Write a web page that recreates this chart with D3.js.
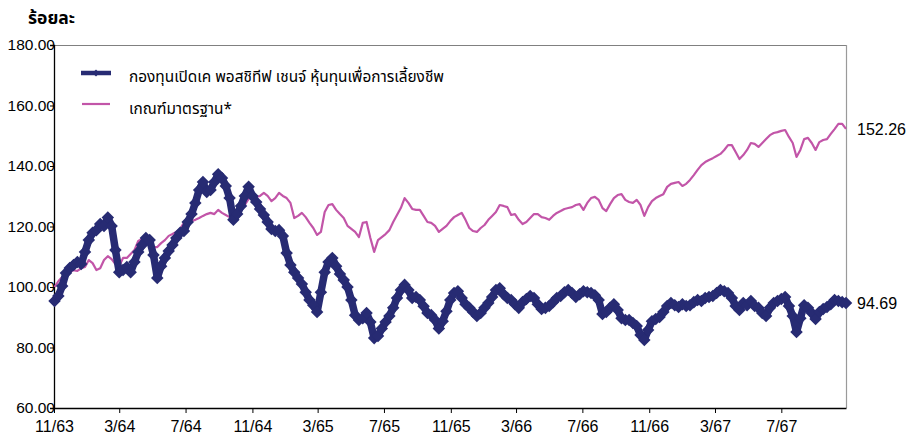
<!DOCTYPE html>
<html>
<head>
<meta charset="utf-8">
<script src="https://cdn.jsdelivr.net/npm/d3@7/dist/d3.min.js"></script>
<style>
  html, body { margin: 0; padding: 0; background: #fff; }
  svg { display: block; }
  .num { font-family: "Liberation Sans", Arial, sans-serif; }
  .thai { font-family: "Noto Sans Thai", Tahoma, "Noto Sans", "DejaVu Sans", sans-serif; }
</style>
</head>
<body>
<svg id="chart" width="910" height="440"></svg>
<script>
// ---- DATA ----
const yAxisTitle = "ร้อยละ";
const seriesNames = ["กองทุนเปิดเค พอสชิทีฟ เชนจ์ หุ้นทุนเพื่อการเลี้ยงชีพ", "เกณฑ์มาตรฐาน*"];
const tickDates = ["2020-11-01","2021-03-01","2021-07-01","2021-11-01","2022-03-01","2022-07-01","2022-11-01","2023-03-01","2023-07-01","2023-11-01","2024-03-01","2024-07-01"];
const tickLabels = ["11/63","3/64","7/64","11/64","3/65","7/65","11/65","3/66","7/66","11/66","3/67","7/67"];
const yTicks = [60, 80, 100, 120, 140, 160, 180];

const dates = [
 "2020-11-02","2020-11-09","2020-11-16","2020-11-23","2020-11-30","2020-12-07","2020-12-14","2020-12-21","2020-12-28",
 "2021-01-04","2021-01-11","2021-01-18","2021-01-25","2021-02-01","2021-02-08","2021-02-15","2021-02-22","2021-03-01","2021-03-08","2021-03-15","2021-03-22","2021-03-29",
 "2021-04-05","2021-04-12","2021-04-19","2021-04-26","2021-05-03","2021-05-10","2021-05-17","2021-05-24","2021-05-31","2021-06-07","2021-06-14","2021-06-21","2021-06-28",
 "2021-07-05","2021-07-12","2021-07-19","2021-07-26","2021-08-02","2021-08-09","2021-08-16","2021-08-23","2021-08-30","2021-09-06","2021-09-13","2021-09-20","2021-09-27",
 "2021-10-04","2021-10-11","2021-10-18","2021-10-25","2021-11-01","2021-11-08","2021-11-15","2021-11-22","2021-11-29","2021-12-06","2021-12-13","2021-12-20","2021-12-27",
 "2022-01-03","2022-01-10","2022-01-17","2022-01-24","2022-01-31","2022-02-07","2022-02-14","2022-02-21","2022-02-28","2022-03-07","2022-03-14","2022-03-21","2022-03-28",
 "2022-04-04","2022-04-11","2022-04-18","2022-04-25","2022-05-02","2022-05-09","2022-05-16","2022-05-23","2022-05-30","2022-06-06","2022-06-13","2022-06-20","2022-06-27",
 "2022-07-04","2022-07-11","2022-07-18","2022-07-25","2022-08-01","2022-08-08","2022-08-15","2022-08-22","2022-08-29","2022-09-05","2022-09-12","2022-09-19","2022-09-26",
 "2022-10-03","2022-10-10","2022-10-17","2022-10-24","2022-10-31","2022-11-07","2022-11-14","2022-11-21","2022-11-28","2022-12-05","2022-12-12","2022-12-19","2022-12-26",
 "2023-01-02","2023-01-09","2023-01-16","2023-01-23","2023-01-30","2023-02-06","2023-02-13","2023-02-20","2023-02-27","2023-03-06","2023-03-13","2023-03-20","2023-03-27",
 "2023-04-03","2023-04-10","2023-04-17","2023-04-24","2023-05-01","2023-05-08","2023-05-15","2023-05-22","2023-05-29","2023-06-05","2023-06-12","2023-06-19","2023-06-26",
 "2023-07-03","2023-07-10","2023-07-17","2023-07-24","2023-07-31","2023-08-07","2023-08-14","2023-08-21","2023-08-28","2023-09-04","2023-09-11","2023-09-18","2023-09-25",
 "2023-10-02","2023-10-09","2023-10-16","2023-10-23","2023-10-30","2023-11-06","2023-11-13","2023-11-20","2023-11-27","2023-12-04","2023-12-11","2023-12-18","2023-12-25",
 "2024-01-01","2024-01-08","2024-01-15","2024-01-22","2024-01-29","2024-02-05","2024-02-12","2024-02-19","2024-02-26","2024-03-04","2024-03-11","2024-03-18","2024-03-25",
 "2024-04-01","2024-04-08","2024-04-15","2024-04-22","2024-04-29","2024-05-06","2024-05-13","2024-05-20","2024-05-27","2024-06-03","2024-06-10","2024-06-17","2024-06-24",
 "2024-07-01","2024-07-08","2024-07-15","2024-07-22","2024-07-29","2024-08-05","2024-08-12","2024-08-19","2024-08-26","2024-09-02","2024-09-09","2024-09-16","2024-09-23",
 "2024-09-30","2024-10-07","2024-10-14","2024-10-21","2024-10-28"
];

const fundValues = [
 95.4,97.0,100.3,104.6,106.3,107.3,108.3,107.6,111.6,
 115.5,117.9,118.8,120.8,120.2,123.0,120.2,112.2,104.9,105.6,106.6,104.9,108.3,
 111.6,113.9,116.2,115.5,110.6,103.0,106.9,109.6,111.9,113.9,116.2,117.9,118.5,
 121.5,124.1,127.8,132.1,134.7,131.4,132.1,134.7,137.3,136.0,133.4,129.4,122.2,
 124.1,126.8,130.1,133.1,130.1,128.1,125.8,123.8,121.5,119.2,118.5,118.8,116.9,
 111.2,107.3,104.9,103.0,101.0,98.3,95.7,94.0,91.7,98.3,104.9,108.3,109.6,
 106.9,104.3,102.3,100.0,95.7,90.7,89.1,89.7,91.4,88.4,83.1,83.8,86.3,
 88.4,90.4,93.1,96.4,99.0,100.7,99.0,96.4,96.7,95.7,93.6,91.4,90.7,
 89.1,86.3,88.7,92.0,95.7,98.0,98.6,96.4,94.3,93.1,91.7,90.4,91.4,
 93.1,94.7,96.7,99.0,99.6,97.6,96.4,95.7,94.3,93.1,95.0,96.0,97.0,
 96.4,94.3,92.7,93.1,93.7,95.0,96.4,97.0,98.3,99.0,98.0,96.7,97.6,
 98.6,98.3,98.0,97.3,95.7,91.1,91.7,93.1,94.3,92.4,89.7,89.1,89.1,
 88.1,87.1,84.1,82.5,85.8,88.7,89.4,90.1,91.7,93.7,94.7,94.0,93.4,
 94.3,93.7,94.0,95.0,95.7,95.4,96.4,96.7,97.0,98.0,99.0,98.6,98.0,
 96.4,93.7,92.4,94.7,94.0,95.4,93.7,93.1,91.4,90.4,93.1,94.7,95.4,
 96.0,96.7,93.7,90.4,85.1,89.7,94.0,93.1,91.4,89.4,91.7,92.7,93.4,
 94.3,95.7,95.4,95.0,94.69
];

const benchValues = [
 100.0,101.9,103.3,104.6,104.9,105.6,105.3,106.2,106.6,
 108.9,107.9,105.6,106.2,108.9,110.2,109.2,107.6,106.9,109.6,109.6,110.9,112.2,
 115.2,115.9,116.2,114.9,113.2,113.2,114.5,115.5,116.9,117.5,118.2,119.2,121.2,
 121.5,121.8,122.2,122.8,123.5,124.1,124.5,124.1,125.5,124.5,123.8,123.1,122.8,
 124.1,125.5,127.1,129.1,130.4,129.8,130.1,131.1,130.1,128.4,129.4,131.1,130.1,
 129.4,127.8,122.8,123.5,124.5,123.1,121.2,119.5,117.2,118.2,124.8,127.1,127.4,
 125.5,124.1,122.8,120.2,119.2,118.2,116.5,121.2,121.5,116.2,111.6,115.5,116.5,
 117.5,118.8,121.5,123.8,126.1,129.4,127.8,125.8,125.5,125.5,123.5,121.5,121.2,
 120.2,118.2,119.2,120.2,121.8,123.1,123.8,124.5,122.2,119.5,118.5,118.2,119.5,
 120.5,122.2,123.5,124.8,127.1,126.8,126.4,123.8,124.1,122.2,120.8,121.5,122.8,
 124.1,124.1,123.1,122.8,122.2,123.5,124.5,125.1,125.8,126.1,126.4,127.1,127.4,
 125.5,127.8,129.4,129.8,128.8,126.1,125.1,127.4,129.4,130.4,130.7,128.8,128.1,
 127.8,128.8,127.1,123.5,126.4,128.4,129.4,130.1,130.7,133.1,134.1,134.4,134.7,
 133.4,134.1,135.4,137.0,138.7,140.3,141.3,142.0,142.6,143.3,144.0,145.3,146.9,
 146.9,144.6,142.3,143.6,145.3,147.6,147.3,146.3,147.6,148.9,150.2,150.9,151.2,
 151.6,151.9,149.6,147.6,143.0,145.3,148.9,149.3,147.6,145.3,147.9,148.6,148.9,
 150.6,152.2,153.9,153.9,152.26
];

const endLabels = ["152.26", "94.69"];
const colors = { fund: "#272b73", bench: "#c255a8" };

// ---- CHART ----
const svg = d3.select("#chart");
const W = 910, H = 440;
const margin = { left: 54, right: 64, top: 45, bottom: 32 };
const plotL = margin.left, plotR = W - margin.right, plotT = margin.top, plotB = H - margin.bottom;

const parse = d3.utcParse("%Y-%m-%d");
const data = dates.map((d, i) => ({ date: parse(d), fund: fundValues[i], bench: benchValues[i] }));

const x = d3.scaleUtc()
  .domain([parse("2020-11-01"), parse(dates[dates.length - 1])])
  .range([plotL, plotR]);
const y = d3.scaleLinear().domain([60, 180]).range([plotB, plotT]);

// frame (top & right, grey)
svg.append("line").attr("x1", plotL).attr("x2", plotR).attr("y1", plotT + 0.5).attr("y2", plotT + 0.5)
  .attr("stroke", "#808080").attr("stroke-width", 1);
svg.append("line").attr("x1", plotR + 0.5).attr("x2", plotR + 0.5).attr("y1", plotT).attr("y2", plotB)
  .attr("stroke", "#9a9a9a").attr("stroke-width", 1.2);

// y axis
const yAxis = svg.append("g").attr("transform", `translate(${plotL},0)`)
  .call(d3.axisLeft(y).tickValues(yTicks).tickFormat(d3.format(".2f")).tickSize(4).tickPadding(-2));
yAxis.select(".domain").attr("stroke", "#000").attr("stroke-width", 1.3);
yAxis.selectAll(".tick line").attr("stroke", "#000");
yAxis.selectAll("text").attr("class", "num").attr("font-size", 15.5).attr("fill", "#000")
  .attr("x", 1);

// x axis
const xAxis = svg.append("g").attr("transform", `translate(0,${plotB})`)
  .call(d3.axisBottom(x).tickValues(tickDates.map(parse))
    .tickFormat((d, i) => tickLabels[i]).tickSize(5).tickSizeOuter(0).tickPadding(8));
xAxis.select(".domain").attr("stroke", "#000").attr("stroke-width", 1.3);
xAxis.selectAll(".tick line").attr("stroke", "#000");
xAxis.selectAll("text").attr("class", "num").attr("font-size", 16).attr("fill", "#000");

// y title
svg.append("text").attr("x", 28).attr("y", 24).attr("class", "thai")
  .attr("font-size", 17.5).attr("font-weight", "bold").attr("fill", "#000").text(yAxisTitle);

// benchmark line
const lineB = d3.line().x(d => x(d.date)).y(d => y(d.bench));
svg.append("path").datum(data).attr("d", lineB).attr("fill", "none")
  .attr("stroke", colors.bench).attr("stroke-width", 2.2).attr("stroke-linejoin", "round");

// fund line with diamond markers
const lineF = d3.line().x(d => x(d.date)).y(d => y(d.fund));
svg.append("path").datum(data).attr("d", lineF).attr("fill", "none")
  .attr("stroke", colors.fund).attr("stroke-width", 7.5).attr("stroke-linejoin", "round");
const diamondType = d3.symbolDiamond2 || d3.symbolDiamond;
const diamond = d3.symbol().type(diamondType).size(100);
svg.append("g").selectAll("path").data(data).join("path")
  .attr("transform", d => `translate(${x(d.date)},${y(d.fund)})`)
  .attr("d", diamond).attr("fill", colors.fund);

// end labels
const last = data[data.length - 1];
svg.append("text").attr("class", "num").attr("x", plotR + 11).attr("y", y(last.bench)).attr("dy", "0.35em")
  .attr("font-size", 16).attr("fill", "#000").text(endLabels[0]);
svg.append("text").attr("class", "num").attr("x", plotR + 11).attr("y", y(last.fund)).attr("dy", "0.35em")
  .attr("font-size", 16).attr("fill", "#000").text(endLabels[1]);

// legend
const lg = svg.append("g");
lg.append("line").attr("x1", 81).attr("x2", 111).attr("y1", 73).attr("y2", 73)
  .attr("stroke", colors.fund).attr("stroke-width", 4.5);
lg.append("path").attr("transform", "translate(96,73)").attr("d", d3.symbol().type(diamondType).size(30)()).attr("fill", colors.fund);
lg.append("text").attr("class", "thai").attr("x", 129).attr("y", 82).attr("font-size", 15.4).attr("fill", "#000").text(seriesNames[0]);
lg.append("line").attr("x1", 82).attr("x2", 110).attr("y1", 104).attr("y2", 104)
  .attr("stroke", colors.bench).attr("stroke-width", 2.2);
lg.append("text").attr("class", "thai").attr("x", 129).attr("y", 114).attr("font-size", 15.4).attr("fill", "#000").text(seriesNames[1]);
</script>
</body>
</html>
